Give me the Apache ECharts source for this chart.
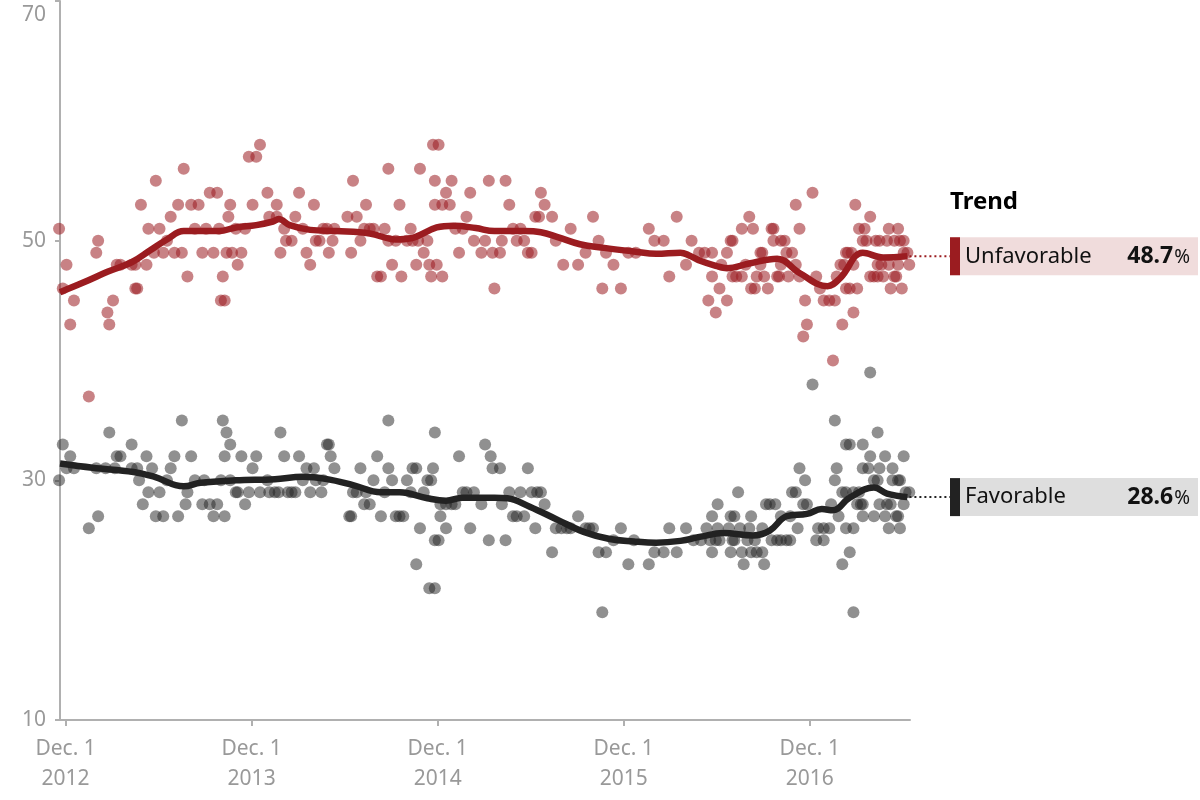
<!DOCTYPE html>
<html>
<head>
<meta charset="utf-8">
<script src="https://cdn.jsdelivr.net/npm/echarts@6/dist/echarts.min.js"></script>
<style>
html, body { margin: 0; padding: 0; background: #fff; }
#chart { width: 1200px; height: 800px; }
</style>
</head>
<body>
<div id="chart"></div>
<script>
// poll results: [decimal year, percent]
var unfavorablePolls = [
    [2012.88,51],[2012.92,48],[2012.90,46],[2012.96,45],[2012.94,43],[2013.04,37],[2013.09,50],[2013.08,49],
    [2013.14,44],[2013.17,45],[2013.15,43],[2013.19,48],[2013.21,48],[2013.27,48],[2013.29,48],[2013.29,46],
    [2013.30,46],[2013.35,48],[2013.32,53],[2013.36,51],[2013.40,55],[2013.42,51],[2013.39,49],[2013.44,49],
    [2013.46,50],[2013.48,52],[2013.52,53],[2013.50,49],[2013.54,49],[2013.55,56],[2013.57,47],[2013.59,53],
    [2013.63,53],[2013.61,51],[2013.65,49],[2013.67,51],[2013.69,54],[2013.73,54],[2013.71,49],[2013.74,51],
    [2013.76,47],[2013.75,45],[2013.77,45],[2013.78,49],[2013.81,49],[2013.79,52],[2013.80,53],[2013.84,48],
    [2013.83,51],[2013.86,49],[2013.88,51],[2013.90,57],[2013.94,57],[2013.96,58],[2013.92,53],[2014.00,54],
    [2014.01,52],[2014.05,52],[2014.05,53],
    [2014.09,51],[2014.07,49],[2014.10,50],[2014.13,50],[2014.15,52],[2014.17,54],[2014.19,51],[2014.21,49],
    [2014.23,48],[2014.25,53],[2014.26,50],[2014.28,50],[2014.30,51],[2014.32,51],[2014.36,51],[2014.33,49],
    [2014.35,50],[2014.45,49],[2014.43,52],[2014.48,52],[2014.46,55],[2014.50,50],[2014.53,53],[2014.52,51],
    [2014.55,51],[2014.57,51],[2014.59,47],[2014.61,47],[2014.63,51],[2014.65,56],[2014.65,50],[2014.69,50],
    [2014.67,48],[2014.71,53],[2014.72,47],[2014.75,50],[2014.77,51],[2014.78,50],[2014.81,50],[2014.80,48],
    [2014.82,56],[2014.84,49],[2014.86,50],[2014.88,47],[2014.94,47],[2014.87,48],[2014.91,48],[2014.89,58],
    [2014.92,58],[2014.90,55],[2014.90,53],[2014.94,53],[2014.98,53],[2014.96,54],[2014.99,55],[2015.01,51],
    [2015.05,51],[2015.03,49],[2015.07,52],[2015.09,54],[2015.11,50],[2015.17,50],[2015.15,49],[2015.21,49],
    [2015.19,55],[2015.22,46],
    [2015.28,55],[2015.25,49],[2015.30,53],[2015.32,51],[2015.36,51],[2015.26,50],[2015.34,50],[2015.38,50],
    [2015.40,49],[2015.42,49],[2015.44,52],[2015.46,52],[2015.47,54],[2015.49,53],[2015.53,52],[2015.55,50],
    [2015.59,48],[2015.63,51],[2015.67,48],[2015.71,49],[2015.75,52],[2015.78,50],[2015.80,46],[2015.82,49],
    [2015.86,48],[2015.90,46],[2015.94,49],[2015.98,49],[2016.05,51],[2016.08,50],[2016.13,50],[2016.16,47],
    [2016.20,52],[2016.25,48],[2016.28,50],[2016.32,49],[2016.35,49],[2016.39,49],[2016.39,47],[2016.37,45],
    [2016.41,44],
    [2016.43,46],[2016.44,48],[2016.47,49],[2016.47,45],[2016.49,50],[2016.50,50],[2016.50,47],[2016.52,47],
    [2016.55,47],[2016.55,51],[2016.57,48],[2016.59,52],[2016.60,46],[2016.62,46],[2016.61,51],[2016.63,47],
    [2016.65,49],[2016.66,49],[2016.65,48],[2016.67,47],[2016.69,46],[2016.71,51],[2016.72,51],[2016.72,50],
    [2016.74,47],[2016.75,47],[2016.76,48],[2016.76,50],[2016.78,50],[2016.79,49],[2016.82,49],[2016.80,47],
    [2016.84,48],[2016.84,53],[2016.86,51],[2016.86,47],[2016.89,45],[2016.90,43],[2016.88,42],[2016.93,54],
    [2016.95,47],[2016.97,46],[2016.99,45],[2017.02,45],[2017.05,45],[2017.04,40],[2017.06,47],[2017.08,48],
    [2017.10,48],[2017.09,43],[2017.11,49],[2017.12,49],[2017.14,49],[2017.11,46],[2017.13,46],[2017.17,46],
    [2017.15,44],[2017.15,48],[2017.16,53],[2017.18,51],[2017.21,51],[2017.20,50],[2017.22,50],[2017.24,52],
    [2017.24,47],[2017.26,47],[2017.28,47],[2017.31,47],[2017.27,50],[2017.29,50],[2017.33,50],[2017.37,50],
    [2017.40,50],[2017.42,50],[2017.28,48],[2017.30,48],[2017.34,48],[2017.39,48],[2017.34,51],[2017.39,51],
    [2017.37,47],[2017.38,47],[2017.35,46],[2017.41,46],[2017.42,49],[2017.44,49],[2017.45,48]
];

var favorablePolls = [
    [2012.90,33],[2012.88,30],[2012.94,32],[2012.92,31],[2012.96,31],[2013.04,26],[2013.09,27],[2013.08,31],
    [2013.13,31],[2013.15,34],[2013.18,31],[2013.19,32],[2013.21,32],[2013.27,33],[2013.27,31],[2013.30,31],
    [2013.31,30],[2013.33,28],[2013.35,32],[2013.36,29],[2013.38,31],[2013.40,27],[2013.44,27],[2013.42,29],
    [2013.46,30],[2013.48,31],[2013.50,32],[2013.52,27],[2013.54,35],[2013.56,28],[2013.57,29],[2013.59,32],
    [2013.61,30],[2013.66,30],[2013.65,28],[2013.69,28],[2013.73,28],[2013.71,27],[2013.77,27],[2013.76,35],
    [2013.78,34],[2013.80,33],[2013.77,32],[2013.75,30],[2013.80,30],[2013.83,29],[2013.84,29],[2013.86,32],
    [2013.88,28],[2013.90,29],[2013.92,31],[2013.94,32],[2013.96,29],[2014.00,30],[2014.01,29],[2014.04,29],
    [2014.06,29],[2014.07,34],[2014.09,32],[2014.11,29],[2014.13,29],[2014.15,29],[2014.17,32],[2014.19,30],
    [2014.21,31],[2014.25,31],[2014.23,29],[2014.26,30],[2014.30,30],[2014.29,29],[2014.32,33],[2014.33,33],
    [2014.34,32],[2014.36,31],[2014.44,27],[2014.45,27],[2014.46,29],[2014.48,29],[2014.50,31],[2014.52,28],
    [2014.55,28],[2014.53,29],[2014.57,30],[2014.59,32],[2014.61,27],[2014.63,29],[2014.65,35],[2014.65,31],
    [2014.67,30],[2014.69,27],[2014.71,27],[2014.73,27],[2014.75,30],[2014.77,29],[2014.78,31],[2014.80,31],
    [2014.80,23],[2014.82,26],[2014.84,29],[2014.86,30],[2014.88,30],[2014.89,31],[2014.90,34],[2014.87,21],
    [2014.90,21],[2014.90,25],[2014.92,25],[2014.93,28],[2014.93,27],[2014.96,26],[2014.96,28],[2014.99,28],
    [2015.01,28],[2015.03,32],[2015.05,29],[2015.07,29],[2015.11,29],[2015.09,26],[2015.15,28],[2015.17,33],
    [2015.19,25],[2015.20,32],
    [2015.21,31],[2015.25,31],[2015.28,25],[2015.26,28],[2015.30,29],[2015.32,27],[2015.34,27],[2015.38,27],
    [2015.36,29],[2015.40,31],[2015.42,29],[2015.45,29],[2015.47,29],[2015.44,26],[2015.49,28],[2015.53,24],
    [2015.55,26],[2015.58,26],[2015.61,26],[2015.63,26],[2015.67,27],[2015.71,26],[2015.73,26],[2015.75,26],
    [2015.80,19],[2015.78,24],[2015.82,24],[2015.86,25],[2015.90,26],[2015.94,23],[2015.97,25],[2016.05,23],
    [2016.08,24],[2016.13,24],[2016.16,26],[2016.20,24],[2016.25,26],[2016.29,25],[2016.33,25],[2016.36,26],
    [2016.38,25],[2016.39,24],[2016.39,27],
    [2016.41,25],[2016.43,25],[2016.42,28],[2016.42,26],[2016.48,26],[2016.49,27],[2016.51,27],[2016.50,25],
    [2016.51,25],[2016.49,24],[2016.55,24],[2016.60,24],[2016.63,24],[2016.66,24],[2016.53,29],[2016.54,26],
    [2016.59,26],[2016.56,23],[2016.58,25],[2016.62,25],[2016.60,27],[2016.66,26],[2016.67,23],[2016.68,28],
    [2016.70,28],[2016.73,28],[2016.71,25],[2016.74,25],[2016.76,25],[2016.79,25],[2016.81,25],[2016.76,27],
    [2016.81,27],[2016.82,29],[2016.84,29],[2016.85,26],[2016.86,31],[2016.89,30],[2016.88,28],[2016.90,28],
    [2016.93,38],[2016.96,26],[2016.99,26],[2017.02,26],[2016.95,25],[2016.99,25],[2017.03,28],[2017.05,35],
    [2017.05,30],[2017.06,31],[2017.07,27],[2017.09,23],[2017.09,29],[2017.11,29],[2017.11,33],[2017.13,33],
    [2017.11,26],[2017.15,26],[2017.13,24],[2017.15,19],[2017.15,29],[2017.18,29],[2017.17,28],[2017.19,28],
    [2017.20,28],[2017.20,33],[2017.20,27],[2017.20,31],[2017.23,31],[2017.24,32],[2017.24,39],[2017.26,27],
    [2017.28,34],[2017.26,30],[2017.28,30],[2017.29,31],[2017.29,28],[2017.32,32],[2017.32,27],[2017.33,28],
    [2017.35,28],[2017.34,26],[2017.36,31],[2017.36,30],[2017.39,30],[2017.40,30],[2017.38,27],[2017.39,27],
    [2017.40,26],[2017.42,32],[2017.42,28],[2017.43,29],[2017.45,29]
];

// smoothed trend lines
var unfavorableTrend = [
    [2012.885,45.7],[2013.01,46.5],[2013.14,47.4],[2013.27,48.2],[2013.37,49.2],[2013.46,50.1],[2013.55,50.8],
    [2013.66,50.8],[2013.74,50.8],[2013.83,51.1],[2013.94,51.3],[2014.03,51.6],[2014.06,51.8],[2014.12,51.3],
    [2014.23,50.9],[2014.37,50.8],[2014.55,50.6],[2014.69,50.1],[2014.77,50.2],[2014.91,51.1],[2015.00,51.25],
    [2015.12,51.05],[2015.22,50.8],[2015.38,50.8],[2015.47,50.7],[2015.56,50.3],[2015.68,49.7],[2015.81,49.4],
    [2015.97,49.1],[2016.09,48.9],[2016.22,49.0],[2016.27,48.75],[2016.33,48.3],[2016.41,47.9],[2016.47,47.7],
    [2016.59,48.1],[2016.74,48.5],[2016.86,47.3],[2017.01,46.2],[2017.08,46.9],[2017.20,49.0],[2017.31,48.6],
    [2017.44,48.7]
];
var favorableTrend = [
    [2012.885,31.4],[2013.06,31.05],[2013.28,30.7],[2013.39,30.3],[2013.55,29.5],[2013.64,29.8],[2013.83,30.0],
    [2014.04,30.1],[2014.19,30.3],[2014.32,30.1],[2014.46,29.6],[2014.61,29.0],[2014.71,29.0],[2014.86,28.5],
    [2014.96,28.3],[2015.05,28.55],[2015.22,28.55],[2015.29,28.5],[2015.41,27.8],[2015.56,26.7],[2015.70,25.7],
    [2015.84,25.1],[2015.97,24.9],[2016.09,24.8],[2016.22,24.95],[2016.33,25.3],[2016.45,25.6],[2016.61,25.4],
    [2016.70,25.8],[2016.79,27.0],[2016.90,27.2],[2016.98,27.6],[2017.04,27.5],[2017.13,28.55],[2017.26,29.4],
    [2017.33,28.9],[2017.44,28.6]
];

var trendNames = ['Unfavorable', 'Favorable'];
var trendLatest = ['48.7', '28.6'];

// Dec. 1 of each year
var tickValues = [2012.915, 2013.915, 2014.915, 2015.915, 2016.915];
var tickLabels = ['Dec. 1\n2012', 'Dec. 1\n2013', 'Dec. 1\n2014', 'Dec. 1\n2015', 'Dec. 1\n2016'];

var FONT = 'Noto Sans';
var RED = '#9b1c20';
var DARK = '#222222';

var chart = echarts.init(document.getElementById('chart'));

var option = {
    animation: false,
    backgroundColor: '#ffffff',
    grid: { left: 60, right: 290, top: 1, bottom: 80 },
    xAxis: {
        type: 'value',
        min: 2012.885,
        max: 2017.454,
        axisLine: { lineStyle: { color: '#b0b0b0', width: 2 } },
        axisTick: { show: true, length: 6, customValues: tickValues, lineStyle: { color: '#b0b0b0', width: 2 } },
        splitLine: { show: false },
        axisLabel: {
            customValues: tickValues,
            margin: 14,
            color: '#999',
            fontFamily: FONT,
            fontSize: 21,
            lineHeight: 30,
            formatter: function (v) {
                var i = tickValues.indexOf(v);
                return i >= 0 ? tickLabels[i] : '';
            }
        }
    },
    yAxis: {
        type: 'value',
        min: 10,
        max: 70,
        interval: 20,
        axisLine: { show: true, lineStyle: { color: '#b0b0b0', width: 2 } },
        axisTick: { show: true, length: 5, lineStyle: { color: '#b0b0b0', width: 2 } },
        splitLine: { show: false },
        axisLabel: {
            margin: 14,
            color: '#999',
            fontFamily: FONT,
            fontSize: 21,
            formatter: function (v) {
                return v === 70 ? '{top|70}' : String(v);
            },
            rich: {
                top: { color: '#999', fontFamily: FONT, fontSize: 21, padding: [28, 0, 0, 0] }
            }
        }
    },
    series: [
        {
            name: 'Favorable polls',
            type: 'scatter',
            data: favorablePolls,
            symbolSize: 12,
            clip: false,
            itemStyle: { color: DARK, opacity: 0.5 },
            z: 2
        },
        {
            name: 'Unfavorable polls',
            type: 'scatter',
            data: unfavorablePolls,
            symbolSize: 12,
            clip: false,
            itemStyle: { color: RED, opacity: 0.55 },
            z: 2
        },
        {
            name: 'Unfavorable',
            type: 'line',
            data: unfavorableTrend,
            smooth: 0.4,
            showSymbol: false,
            lineStyle: { color: RED, width: 6.5 },
            z: 5
        },
        {
            name: 'Favorable',
            type: 'line',
            data: favorableTrend,
            smooth: 0.4,
            showSymbol: false,
            lineStyle: { color: DARK, width: 6.5 },
            z: 5
        }
    ]
};
chart.setOption(option);

// trend labels on the right, placed at the last trend value
var trends = [unfavorableTrend, favorableTrend];
var boxFill = ['#f0dcdc', '#dedede'];
var barFill = [RED, DARK];
var graphics = [{
    type: 'text',
    left: 950,
    top: 190,
    style: { text: 'Trend', font: 'bold 24px "' + FONT + '"', fill: '#000' }
}];
trends.forEach(function (t, i) {
    var last = t[t.length - 1];
    var p = chart.convertToPixel({ gridIndex: 0 }, last);
    graphics.push({
        type: 'line',
        shape: { x1: p[0] + 2, y1: p[1], x2: 950, y2: p[1] },
        style: { stroke: barFill[i], lineWidth: 2, lineDash: [2, 3] }
    });
    graphics.push({
        type: 'rect',
        shape: { x: 950, y: p[1] - 19, width: 248, height: 38 },
        style: { fill: boxFill[i] }
    });
    graphics.push({
        type: 'rect',
        shape: { x: 950, y: p[1] - 19, width: 10, height: 38 },
        style: { fill: barFill[i] }
    });
    graphics.push({
        type: 'text',
        x: 965,
        y: p[1],
        style: {
            text: trendNames[i],
            font: '22px "' + FONT + '"',
            fill: '#111',
            verticalAlign: 'middle'
        }
    });
    graphics.push({
        type: 'text',
        x: 1190,
        y: p[1],
        style: {
            text: '{v|' + trendLatest[i] + '}{p|%}',
            align: 'right',
            verticalAlign: 'middle',
            rich: {
                v: { font: 'bold 23px "' + FONT + '"', fill: '#111' },
                p: { font: '19px "' + FONT + '"', fill: '#111', padding: [2, 0, 0, 1] }
            }
        }
    });
});
chart.setOption({ graphic: graphics });
</script>
</body>
</html>
